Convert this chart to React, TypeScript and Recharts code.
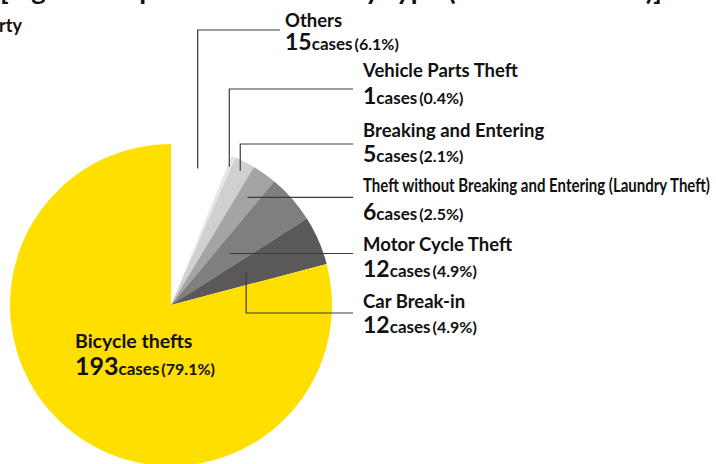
import React from 'react';
import { PieChart, Pie, Cell } from 'recharts';

// slices go clockwise from 12 o'clock
const categories = [
    'Others',
    'Vehicle Parts Theft',
    'Breaking and Entering',
    'Theft without Breaking and Entering (Laundry Theft)',
    'Motor Cycle Theft',
    'Car Break-in',
    'Bicycle thefts',
];
const caseCounts = [15, 1, 5, 6, 12, 12, 193];
const percentLabels = ['6.1%', '0.4%', '2.1%', '2.5%', '4.9%', '4.9%', '79.1%'];

const sliceColors = ['#ffffff', '#e6e6e6', '#cfd0cf', '#a3a4a3', '#7f7f7f', '#5a5859', '#ffdf00'];

const data = categories.map((name, i) => ({ name, value: caseCounts[i], pct: percentLabels[i] }));

const FONT = 'Lato, "Noto Sans", sans-serif';
const RAD = Math.PI / 180;

// leader line / label placement per slice
type LabelSpot = {
    anchorR: number;
    elbowY?: number; // vertical run to this y before going right
    lineEndX: number;
    textX: number;
    titleY: number;
    countY: number;
    condensed?: number;
    noLine?: boolean;
};

const spots: LabelSpot[] = [
    { anchorR: 139, elbowY: 30, lineEndX: 280, textX: 285, titleY: 27, countY: 50 },
    { anchorR: 150, elbowY: 89, lineEndX: 353, textX: 363, titleY: 77, countY: 104 },
    { anchorR: 151, elbowY: 144, lineEndX: 353, textX: 363, titleY: 137, countY: 162 },
    { anchorR: 132, lineEndX: 353, textX: 363, titleY: 192, countY: 220, condensed: 347 },
    { anchorR: 78, lineEndX: 353, textX: 363, titleY: 251, countY: 277 },
    { anchorR: 82, elbowY: 313, lineEndX: 353, textX: 363, titleY: 308, countY: 333 },
    { anchorR: 0, lineEndX: 0, textX: 75, titleY: 348, countY: 375, noLine: true },
];

const SliceLabel = (props: any) => {
    const { cx, cy, midAngle, index } = props;
    const spot = spots[index];
    const item = data[index];
    const big = index === 6;
    let line = null;
    if (!spot.noLine) {
        const ax = cx + spot.anchorR * Math.cos(-midAngle * RAD);
        const ay = cy + spot.anchorR * Math.sin(-midAngle * RAD);
        const pts = spot.elbowY !== undefined
            ? `${ax},${ay} ${ax},${spot.elbowY} ${spot.lineEndX},${spot.elbowY}`
            : `${ax},${ay} ${spot.lineEndX},${ay}`;
        line = <polyline points={pts} fill="none" stroke="#3a3a3a" strokeWidth={1.2} />;
    }
    return (
        <g>
            {line}
            <text
                x={spot.textX}
                y={spot.titleY}
                fontFamily={FONT}
                fontWeight={700}
                fontSize={big ? 19.5 : 18.5}
                fill="#111"
                textLength={spot.condensed}
                lengthAdjust={spot.condensed ? 'spacingAndGlyphs' : undefined}
            >
                {item.name}
            </text>
            <text x={spot.textX} y={spot.countY} fontFamily={FONT} fontWeight={700} fill="#111">
                <tspan fontSize={big ? 25 : 23}>{item.value}</tspan>
                <tspan fontSize={17}>cases</tspan>
                <tspan fontSize={16} dx={2}>({item.pct})</tspan>
            </text>
        </g>
    );
};

export default function App() {
    return (
        <div style={{ position: 'absolute', left: 0, top: 0, width: 716, height: 464, background: '#fff' }}>
            <PieChart width={716} height={464} margin={{ top: 0, right: 0, bottom: 0, left: 0 }}>
                <text x={0} y={0} fontFamily={FONT} fontWeight={700} fontSize={26} fill="#111" textLength={662} lengthAdjust="spacingAndGlyphs">
                    [Fig. 2 Composition of Theft by type (Jan.–Dec. 2023)]
                </text>
                <text x={22} y={32} textAnchor="end" fontFamily={FONT} fontWeight={700} fontSize={18} fill="#111">
                    Property
                </text>
                <Pie
                    data={data}
                    dataKey="value"
                    nameKey="name"
                    cx={171}
                    cy={305}
                    outerRadius={161}
                    startAngle={90}
                    endAngle={-270}
                    stroke="none"
                    labelLine={false}
                    label={SliceLabel}
                    isAnimationActive={false}
                >
                    {data.map((d, i) => (
                        <Cell key={d.name} fill={sliceColors[i]} />
                    ))}
                </Pie>
            </PieChart>
        </div>
    );
}
